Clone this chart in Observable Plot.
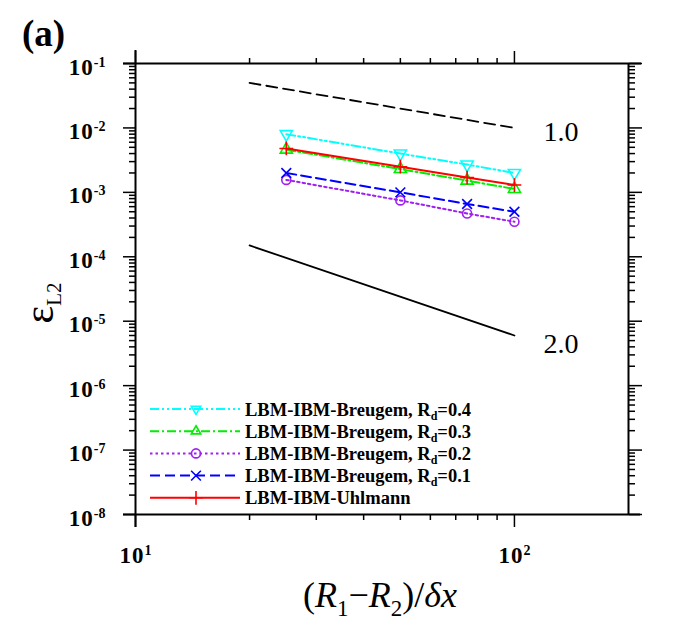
<!DOCTYPE html>
<html><head><meta charset="utf-8">
<script src="https://cdn.jsdelivr.net/npm/d3@7"></script>
<script src="https://cdn.jsdelivr.net/npm/@observablehq/plot@0.6"></script>
<style>body{margin:0;background:#fff} #chart{width:674px;height:624px}</style>
</head><body><div id="chart"></div>
<script>
// ---- data ----
const gridN   = [25, 50, 75, 100];              // (R1-R2)/dx
const rd04    = [0.008, 0.004, 0.0027, 0.002];
const rd03    = [0.0046, 0.0023, 0.00152, 0.00113];
const rd02    = [0.00156, 0.00075, 0.00047, 0.00035];
const rd01    = [0.002, 0.001, 0.00066, 0.0005];
const uhlmann = [0.0048, 0.0025, 0.0017, 0.0013];

const refX    = [20, 100];
const ref1    = [0.05, 0.01];      // slope 1.0
const ref2    = [1.5e-4, 6e-6];    // slope 2.0
const refLabels = ["1.0", "2.0"];

const xDomain = [10, 200];
const yDomain = [1e-8, 1e-1];
const xMajor  = [10, 100];
const xMinor  = [20, 30, 40, 50, 60, 70, 80, 90];
const yMajor  = [1e-8, 1e-7, 1e-6, 1e-5, 1e-4, 1e-3, 1e-2, 1e-1];
const yMinorMultipliers = [2, 3, 4, 5, 6, 7, 8, 9];

const seriesKeys   = ["rd04", "rd03", "rd02", "rd01", "uhl"];
const seriesValues = [rd04, rd03, rd02, rd01, uhlmann];
const legendMain   = ["LBM-IBM-Breugem, R", "LBM-IBM-Breugem, R", "LBM-IBM-Breugem, R", "LBM-IBM-Breugem, R", "LBM-IBM-Uhlmann"];
const legendSub    = ["d", "d", "d", "d", ""];
const legendTail   = ["=0.4", "=0.3", "=0.2", "=0.1", ""];

// ---- styles ----
const styles = {
  rd04: {color: "#00ffff", dash: "9,3,2,3,2,3", symbol: "triangle", rotate: 180},
  rd03: {color: "#00ee00", dash: "9,3,2,3", symbol: "triangle", rotate: 0},
  rd02: {color: "#a020f0", dash: "2.5,3", symbol: "circle", rotate: 0},
  rd01: {color: "#0000ff", dash: "10,5", symbol: "times", rotate: 0},
  uhl:  {color: "#ff0000", dash: null, symbol: "plus", rotate: 0}
};
const serif = "'Liberation Serif', 'Times New Roman', Times, serif";

const rows = [];
seriesKeys.forEach((k, i) => gridN.forEach((n, j) => rows.push({key: k, n, e: seriesValues[i][j]})));
const refRows1 = refX.map((x, i) => ({x, y: ref1[i]}));
const refRows2 = refX.map((x, i) => ({x, y: ref2[i]}));
const yMinor = yMajor.slice(0, -1).flatMap(d => yMinorMultipliers.map(m => m * d));

const fmt = d => `10^${Math.round(Math.log10(d))}`;
const tickStyle = {strokeWidth: 1.5, label: null};

const marks = [];
// frame (axis lines extended beyond the corners)
marks.push(Plot.ruleY([yDomain[0]], {insetLeft: -12, insetRight: -12, strokeWidth: 2}));
marks.push(Plot.ruleY([yDomain[1]], {insetLeft: -12, insetRight: -13, strokeWidth: 2}));
marks.push(Plot.ruleX([xDomain[0]], {insetTop: -13, insetBottom: -13, strokeWidth: 2}));
marks.push(Plot.ruleX([xDomain[1]], {strokeWidth: 2}));
// axes
marks.push(Plot.axisX({...tickStyle, anchor: "bottom", ticks: xMajor, tickSize: 13, tickPadding: 19, tickFormat: fmt}));
marks.push(Plot.axisX({...tickStyle, anchor: "bottom", ticks: xMinor, tickSize: 6, tickFormat: () => ""}));
marks.push(Plot.axisX({...tickStyle, anchor: "top", ticks: xMajor, tickSize: 13, tickFormat: () => ""}));
marks.push(Plot.axisX({...tickStyle, anchor: "top", ticks: xMinor, tickSize: 6, tickFormat: () => ""}));
marks.push(Plot.axisY({...tickStyle, anchor: "left", ticks: yMajor, tickSize: 12, tickPadding: 18, tickFormat: fmt}));
marks.push(Plot.axisY({...tickStyle, anchor: "left", ticks: yMinor, tickSize: 6, tickFormat: () => ""}));
marks.push(Plot.axisY({...tickStyle, anchor: "right", ticks: yMajor, tickSize: 13, tickFormat: () => ""}));
marks.push(Plot.axisY({...tickStyle, anchor: "right", ticks: yMinor, tickSize: 6, tickFormat: () => ""}));
// reference slopes
marks.push(Plot.line(refRows1, {x: "x", y: "y", stroke: "black", strokeWidth: 1.8, strokeDasharray: "11,6"}));
marks.push(Plot.line(refRows2, {x: "x", y: "y", stroke: "black", strokeWidth: 1.8}));
marks.push(Plot.text([refRows1[1]], {x: "x", y: "y", text: () => refLabels[0], textAnchor: "start", dx: 29, dy: 4, fontSize: 28, fill: "black"}));
marks.push(Plot.text([refRows2[1]], {x: "x", y: "y", text: () => refLabels[1], textAnchor: "start", dx: 29, dy: 9, fontSize: 28, fill: "black"}));
// series
seriesKeys.forEach(k => {
  const s = styles[k];
  const d = rows.filter(r => r.key === k);
  marks.push(Plot.line(d, {x: "n", y: "e", stroke: s.color, strokeWidth: 2, strokeDasharray: s.dash || undefined}));
  marks.push(Plot.dot(d, {x: "n", y: "e", symbol: s.symbol, rotate: s.rotate, r: 4.5, stroke: s.color, strokeWidth: 1.6, fill: "none"}));
});

const svg = Plot.plot({
  width: 674, height: 624,
  marginLeft: 135, marginRight: 46, marginTop: 63, marginBottom: 110,
  x: {type: "log", domain: xDomain, label: null},
  y: {type: "log", domain: yDomain, label: null},
  style: {fontFamily: serif, background: "white", color: "black"},
  marks
});
document.getElementById("chart").appendChild(svg);

const root = d3.select(svg);
// superscript tick labels
root.selectAll('g[aria-label="x-axis tick label"] text, g[aria-label="y-axis tick label"] text').each(function () {
  const t = d3.select(this);
  const s = t.text();
  if (!s.includes("^")) return;
  const [base, exp] = s.split("^");
  t.attr("font-size", 23).style("font-size", "23px").style("font-weight", "bold")
    .style("font-family", serif).style("letter-spacing", "1px");
  t.text(null);
  t.append("tspan").text(base);
  t.append("tspan").attr("dy", -8).style("font-size", "14px").style("letter-spacing", "0px").text(exp);
});
root.selectAll('g[aria-label="y-axis tick label"] text').each(function () {
  const t = d3.select(this);
  const y = +t.attr("y") || 0;
  t.attr("dy", null).attr("y", y + 11);
});

// panel label
root.append("text").attr("x", 22).attr("y", 46).attr("text-anchor", "start").attr("font-family", serif)
  .attr("font-weight", "bold").attr("font-size", 37).text("(a)");

// x title
const xt = root.append("text").attr("x", 380).attr("y", 607).attr("text-anchor", "middle")
  .attr("font-family", serif).attr("font-size", 36);
xt.append("tspan").text("(");
xt.append("tspan").attr("font-style", "italic").text("R");
xt.append("tspan").attr("font-size", 23).attr("dy", 9).text("1");
xt.append("tspan").attr("dy", -9).text("\u2212");
xt.append("tspan").attr("font-style", "italic").text("R");
xt.append("tspan").attr("font-size", 23).attr("dy", 9).text("2");
xt.append("tspan").attr("dy", -9).text(")/");
xt.append("tspan").attr("font-style", "italic").text("\u03b4x");

// y title
const yt = root.append("text").attr("transform", "translate(53,303) rotate(-90)")
  .attr("text-anchor", "middle").attr("font-family", serif).attr("font-size", 42);
yt.append("tspan").text("\u03b5");
yt.append("tspan").attr("font-size", 21).attr("dy", 8).text("L2");

// legend
const lg = root.append("g");
seriesKeys.forEach((k, i) => {
  const s = styles[k];
  const y = 409 + i * 22.2;
  lg.append("line").attr("x1", 150).attr("x2", 240).attr("y1", y).attr("y2", y)
    .attr("stroke", s.color).attr("stroke-width", 2).attr("stroke-dasharray", s.dash);
  const sym = {triangle: d3.symbolTriangle2, circle: d3.symbolCircle, times: d3.symbolTimes, plus: d3.symbolPlus}[s.symbol];
  lg.append("path").attr("d", d3.symbol(sym, 4.5 * 4.5 * Math.PI)())
    .attr("transform", `translate(196,${y}) rotate(${s.rotate})`)
    .attr("fill", "none").attr("stroke", s.color).attr("stroke-width", 1.6);
  const t = lg.append("text").attr("x", 245).attr("y", y + 6.5).attr("text-anchor", "start").attr("font-family", serif)
    .attr("font-weight", "bold").attr("font-size", 18.5).attr("fill", "black");
  t.append("tspan").text(legendMain[i]);
  if (legendSub[i]) {
    t.append("tspan").attr("font-size", 12).attr("dy", 4).text(legendSub[i]);
    t.append("tspan").attr("dy", -4).text(legendTail[i]);
  }
});
</script>
</body></html>
